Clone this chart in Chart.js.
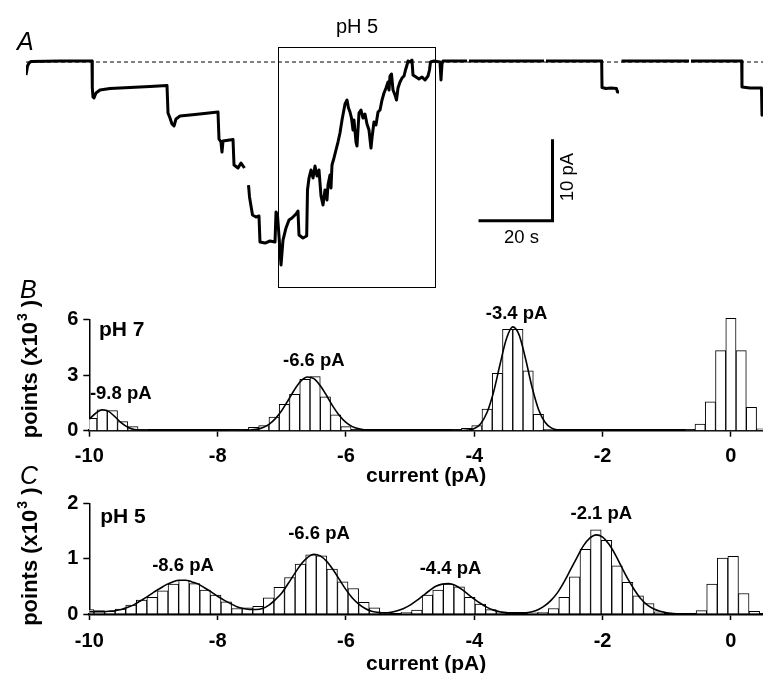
<!DOCTYPE html>
<html>
<head>
<meta charset="utf-8">
<script src="https://cdn.jsdelivr.net/npm/chart.js@4.4.1/dist/chart.umd.min.js"></script>
<style>
  html, body { margin: 0; padding: 0; background: #fff; }
  #fig { position: relative; width: 763px; height: 673px; overflow: hidden; }
  canvas { position: absolute; left: 0; }
</style>
</head>
<body>
<div id="fig">
  <canvas id="traceA" width="763" height="290" style="top:0px"></canvas>
  <canvas id="histB" width="763" height="209" style="top:280px"></canvas>
  <canvas id="histC" width="763" height="218" style="top:455px"></canvas>
</div>
<script>
// ---------- panel A : current trace (time in s, current in pA) ----------
var traceT = [0, 0.41, 0.81, 1.35, 9.19, 17.84,
  17.92, 18.11, 18.38, 18.92, 20.0, 22.70, 28.11, 33.51, 38.11,
  38.38, 38.92, 39.46, 40.0, 40.54, 41.62, 45.68, 51.89,
  52.16, 52.70, 52.97, 53.24, 55.95,
  56.22, 57.30, 58.11, 59.05, 59.5,
  60.14, 60.41, 60.81, 61.22, 62.16, 62.97, 63.24, 64.59, 65.95, 67.30,
  67.57, 67.97, 68.38, 68.92, 69.46, 70.27, 71.08, 71.89, 72.97, 73.51,
  73.78, 74.86, 75.86, 76.08, 76.49, 77.03, 77.57, 78.11, 78.65, 79.19,
  79.73, 80.27, 80.81, 81.35, 81.62, 82.16, 82.43, 82.70, 83.24, 83.78,
  84.32, 84.86, 85.41, 85.81, 86.22, 86.76, 87.16, 87.57, 87.97, 88.38,
  88.65, 89.19, 89.46, 90.0, 90.54, 91.08, 91.62, 92.16, 92.70, 93.24,
  93.51, 94.05, 94.59, 95.14, 95.68, 96.22, 96.76, 97.30, 97.84, 98.11,
  98.38, 98.78, 99.19, 99.73, 100.14, 100.54, 101.08, 101.62, 102.16, 102.57,
  102.97, 103.24, 103.78, 104.32, 104.59, 105.41, 106.22, 107.03, 107.84, 108.65,
  109.05, 109.32, 110.27, 111.89, 112.16, 112.43, 112.70, 119.19, 119.46, 119.73,
  140.0, 140.27, 140.54, 155.59, 155.68, 156.76, 158.11, 159.59, 159.86, 160.27,
  160.6, 160.95, 179.19, 179.46, 179.73, 193.43, 193.51, 195.68, 198.78, 198.92, 199.19];
var traceI = [-1.60, -0.49, -0.12, 0.06, 0.12, 0.12,
  -3.19, -4.30, -4.42, -3.81, -3.44, -3.26, -3.13, -3.01, -2.89,
  -6.27, -6.88, -7.62, -7.86, -7.00, -6.63, -6.45, -6.14,
  -9.46, -9.83, -11.06, -9.71, -9.52,
  -12.65, -13.02, -12.41, -13.02, null,
  -15.11, -16.58, -17.69, -18.80, -19.04, -18.92, -22.11, -22.24, -21.99, -22.11,
  -18.43, -18.80, -21.38, -24.94, -21.87, -20.39, -19.41, -19.16, -18.67, -18.30,
  -21.25, -21.62, -21.38, -15.72, -14.25, -13.27, -14.25, -12.78, -14.00, -13.27,
  -16.46, -17.57, -15.72, -16.95, -15.11, -13.88, -15.48, -12.65, -11.79, -10.81,
  -9.83, -8.72, -7.13, -6.14, -5.16, -4.67, -5.65, -6.14, -6.88, -8.35,
  -7.13, -9.83, -10.32, -6.27, -5.90, -6.88, -6.39, -7.62, -8.35, -10.57,
  -9.34, -7.37, -7.74, -6.14, -5.90, -4.67, -3.81, -3.19, -2.46, -3.44,
  -1.72, -1.47, -3.44, -4.05, -4.67, -3.19, -2.46, -1.97, -1.72, -0.98,
  -0.37, 0.12, 0, 0.25, -1.60, -1.84, -2.09, -1.84, -2.21, -1.72,
  -0.98, 0, 0.12, 0, -2.21, -0.25, 0.12, 0.12, null, 0.12,
  0.12, null, 0.12, 0.12, -3.13, -3.26, -3.19, -3.26, -3.69, -3.69,
  null, 0.12, 0.12, null, 0.12, 0.12, -3.07, -3.19, -3.19, -6.51, -6.63];
var pH5Window = [68.1, 110.5];      // s, period marked by the box
var scaleBarSec = 20;
var scaleBarPA = 10;

// ---------- panel B : pH 7 amplitude histogram ----------
var binsB = [-9.96, -9.8, -9.64, -9.48, -9.32, -9.16,
  -7.76, -7.6, -7.44, -7.28, -7.12, -6.96, -6.8, -6.64, -6.48, -6.32, -6.16, -6.0, -5.84,
  -4.28, -4.12, -3.96, -3.8, -3.64, -3.48, -3.32, -3.16, -3.0, -2.84,
  -0.64, -0.48, -0.32, -0.16, 0, 0.16, 0.32, 0.48];
var countsB = [0.67, 1.12, 1.08, 0.49, 0.22, 0.05,
  0.02, 0.03, 0.18, 0.27, 0.74, 1.42, 1.96, 2.77, 2.91, 1.83, 0.85, 0.22, 0.05,
  0.03, 0.13, 0.27, 1.17, 3.09, 5.46, 5.46, 3.23, 0.88, 0.06,
  0.05, 0.36, 1.56, 4.31, 6.05, 4.31, 1.26, 0.10];
var fitXB = [-10, -9.9, -9.8, -9.7, -9.6, -9.5, -9.4, -9.3, -9.2, -9.1,
  -7.7, -7.6, -7.5, -7.4, -7.3, -7.2, -7.1, -7.0, -6.9, -6.8, -6.7, -6.6,
  -6.5, -6.4, -6.3, -6.2, -6.1, -6.0, -5.9, -5.8, -5.7, -5.6, -5.5,
  -4.3, -4.2, -4.1, -4.0, -3.9, -3.8, -3.7, -3.6, -3.5, -3.4,
  -3.3, -3.2, -3.1, -3.0, -2.9, -2.8, -2.7, -2.6, -2.5];
var fitYB = [0.62, 0.94, 1.13, 1.04, 0.75, 0.42, 0.19, 0.06, 0.02, 0,
  0, 0.01, 0.03, 0.07, 0.16, 0.34, 0.65, 1.09, 1.64, 2.22, 2.68, 2.89,
  2.80, 2.42, 1.88, 1.30, 0.81, 0.45, 0.22, 0.10, 0.04, 0.01, 0,
  0, 0.01, 0.03, 0.12, 0.38, 0.99, 2.07, 3.55, 4.94, 5.59,
  5.15, 3.86, 2.35, 1.16, 0.47, 0.15, 0.04, 0.01, 0];
var peakTextB = ['-9.8 pA', '-6.6 pA', '-3.4 pA'];
var yTicksB = [0, 3, 6];

// ---------- panel C : pH 5 amplitude histogram ----------
var binsC = [-10.01, -9.845, -9.68, -9.515, -9.35, -9.185, -9.02, -8.855, -8.69, -8.525,
  -8.36, -8.195, -8.03, -7.865, -7.7, -7.535, -7.37, -7.205, -7.04, -6.875,
  -6.71, -6.545, -6.38, -6.215, -6.05, -5.885, -5.72, -5.555, -5.39,
  -5.06, -4.895, -4.73, -4.565, -4.4, -4.235, -4.07, -3.905, -3.74, -3.575,
  -3.095, -2.93, -2.765, -2.6, -2.435, -2.27, -2.105, -1.94, -1.775, -1.61, -1.445, -1.28, -1.115,
  -0.46, -0.295, -0.13, 0.035, 0.2, 0.365];
var countsC = [0.08, 0.06, 0.05, 0.09, 0.16, 0.25, 0.30, 0.42, 0.54, 0.61,
  0.55, 0.43, 0.34, 0.22, 0.10, 0.11, 0.14, 0.29, 0.48, 0.66,
  0.90, 1.07, 1.05, 0.81, 0.58, 0.46, 0.21, 0.11, 0.03,
  0.03, 0.07, 0.34, 0.43, 0.54, 0.49, 0.30, 0.18, 0.08, 0.04,
  0.02, 0.03, 0.10, 0.30, 0.67, 1.17, 1.52, 1.33, 0.87, 0.57, 0.33, 0.19, 0.04,
  0.06, 0.54, 1.01, 1.04, 0.37, 0.05];
var fitXC = [-10, -9.9, -9.8, -9.7, -9.6, -9.5, -9.4, -9.3, -9.2, -9.1,
  -9.0, -8.9, -8.8, -8.7, -8.6, -8.5, -8.4, -8.3, -8.2, -8.1,
  -8.0, -7.9, -7.8, -7.7, -7.6, -7.5, -7.4, -7.3, -7.2, -7.1,
  -7.0, -6.9, -6.8, -6.7, -6.6, -6.5, -6.4, -6.3, -6.2, -6.1,
  -6.0, -5.9, -5.8, -5.7, -5.6, -5.5, -5.4, -5.3, -5.2, -5.1,
  -5.0, -4.9, -4.8, -4.7, -4.6, -4.5, -4.4, -4.3, -4.2, -4.1,
  -4.0, -3.9, -3.8, -3.7, -3.6, -3.5, -3.4, -3.3, -3.2, -3.1,
  -3.0, -2.9, -2.8, -2.7, -2.6, -2.5, -2.4, -2.3, -2.2, -2.1,
  -2.0, -1.9, -1.8, -1.7, -1.6, -1.5, -1.4, -1.3, -1.2, -1.1,
  -1.0, -0.9, -0.8];
var fitYC = [0.04, 0.04, 0.04, 0.05, 0.06, 0.08, 0.12, 0.17, 0.24, 0.31,
  0.39, 0.46, 0.53, 0.58, 0.61, 0.61, 0.58, 0.54, 0.47, 0.40,
  0.32, 0.25, 0.19, 0.13, 0.10, 0.08, 0.08, 0.10, 0.16, 0.26,
  0.38, 0.55, 0.73, 0.90, 1.02, 1.08, 1.05, 0.95, 0.80, 0.62,
  0.44, 0.29, 0.18, 0.10, 0.05, 0.03, 0.02, 0.03, 0.06, 0.10,
  0.16, 0.24, 0.33, 0.42, 0.50, 0.54, 0.55, 0.52, 0.45, 0.36,
  0.27, 0.19, 0.12, 0.07, 0.04, 0.02, 0.02, 0.02, 0.02, 0.04,
  0.08, 0.15, 0.25, 0.39, 0.58, 0.80, 1.02, 1.23, 1.37, 1.43,
  1.39, 1.26, 1.07, 0.84, 0.62, 0.43, 0.27, 0.16, 0.09, 0.05,
  0.02, 0.01, 0];
var peakTextC = ['-8.6 pA', '-6.6 pA', '-4.4 pA', '-2.1 pA'];
var yTicksC = [0, 1, 2];

var xTicksCurrent = [-10, -8, -6, -4, -2, 0];

// ---------- drawing ----------
var FONT = "'Liberation Sans', Arial, Helvetica, sans-serif";
Chart.defaults.font.family = FONT;
Chart.defaults.color = '#000';

function toPoints(xs, ys) {
    return xs.map(function (v, i) { return { x: v, y: ys[i] }; });
}

var traceNotes = {
    id: 'traceNotes',
    afterDraw: function (chart) {
        var ctx = chart.ctx, xs = chart.scales.x, ys = chart.scales.y;
        var px = function (v) { return xs.getPixelForValue(v); };
        var py = function (v) { return ys.getPixelForValue(v); };
        ctx.save();
        ctx.strokeStyle = '#000';
        ctx.fillStyle = '#000';

        // box round the pH 5 period
        var bx0 = Math.round(px(pH5Window[0])) + 0.5, bx1 = Math.round(px(pH5Window[1])) + 0.5;
        var by0 = Math.round(py(1.84)) + 0.5, by1 = Math.round(py(-27.64)) + 0.5;
        ctx.lineWidth = 1;
        ctx.strokeRect(bx0, by0, bx1 - bx0, by1 - by0);
        ctx.font = '20px ' + FONT;
        ctx.textAlign = 'center';
        ctx.textBaseline = 'middle';
        ctx.fillText('pH 5', (bx0 + bx1) / 2, by0 - 20);

        // scale bars
        var cornerT = 142.3, cornerI = -19.5;
        var sx0 = px(cornerT - scaleBarSec), sx1 = px(cornerT);
        var sy0 = py(cornerI), sy1 = py(cornerI + scaleBarPA);
        ctx.lineWidth = 3;
        ctx.lineJoin = 'miter';
        ctx.beginPath();
        ctx.moveTo(sx0, sy0);
        ctx.lineTo(sx1, sy0);
        ctx.lineTo(sx1, sy1);
        ctx.stroke();
        ctx.font = '18.5px ' + FONT;
        ctx.fillText(scaleBarSec + ' s', (sx0 + sx1) / 2 + 6, sy0 + 17);
        ctx.save();
        ctx.translate(sx1 + 15, (sy0 + sy1) / 2 - 3);
        ctx.rotate(-Math.PI / 2);
        ctx.fillText(scaleBarPA + ' pA', 0, 0);
        ctx.restore();

        // panel letter
        ctx.font = 'italic 25px ' + FONT;
        ctx.textAlign = 'left';
        ctx.textBaseline = 'alphabetic';
        ctx.fillText('A', 17, 50);
        ctx.restore();
    }
};

new Chart(document.getElementById('traceA').getContext('2d'), {
    type: 'line',
    data: {
        datasets: [{
            data: toPoints(traceT, traceI),
            borderColor: '#000',
            borderWidth: 3,
            borderJoinStyle: 'round',
            pointRadius: 0,
            tension: 0,
            spanGaps: false,
            order: 1
        }, {
            data: [{ x: 0, y: 0 }, { x: 199.19, y: 0 }],
            borderColor: '#000',
            borderWidth: 1,
            borderDash: [4, 3],
            pointRadius: 0,
            order: 2
        }]
    },
    options: {
        responsive: false,
        animation: false,
        events: [],
        layout: { padding: { left: 26, right: 0, top: 0, bottom: 0 } },
        plugins: { legend: { display: false }, tooltip: { enabled: false } },
        scales: {
            x: { type: 'linear', min: 0, max: 199.19, display: false },
            y: { type: 'linear', min: -28.01, max: 7.62, display: false }
        }
    },
    plugins: [traceNotes]
});

function histNotes(o) {
    return {
        id: 'histNotes',
        afterDraw: function (chart) {
            var ctx = chart.ctx, xs = chart.scales.x, ys = chart.scales.y, area = chart.chartArea;
            ctx.save();
            ctx.fillStyle = '#000';
            ctx.font = 'italic 25px ' + FONT;
            ctx.textAlign = 'left';
            ctx.textBaseline = 'alphabetic';
            ctx.fillText(o.letter, o.letterAt[0], o.letterAt[1]);

            ctx.textBaseline = 'middle';
            ctx.font = 'bold 21px ' + FONT;
            ctx.fillText(o.ph, xs.getPixelForValue(o.phAt[0]), ys.getPixelForValue(o.phAt[1]));

            ctx.font = 'bold 18.5px ' + FONT;
            ctx.textAlign = 'center';
            for (var i = 0; i < o.peaks.length; i++) {
                ctx.fillText(o.peaks[i], xs.getPixelForValue(o.peakAt[i][0]), ys.getPixelForValue(o.peakAt[i][1]));
            }

            // y title with a raised 3
            var main = 'points (x10', sup = '3', tail = ' )';
            ctx.translate(31, (area.top + area.bottom) / 2 - o.titleLift);
            ctx.rotate(-Math.PI / 2);
            ctx.textAlign = 'left';
            ctx.font = 'bold 22px ' + FONT;
            var w1 = ctx.measureText(main).width, w3 = ctx.measureText(tail).width;
            ctx.font = 'bold 14px ' + FONT;
            var w2 = ctx.measureText(sup).width;
            var x0 = -(w1 + w2 + w3 + 1) / 2;
            ctx.font = 'bold 22px ' + FONT;
            ctx.fillText(main, x0, 0);
            ctx.font = 'bold 14px ' + FONT;
            ctx.fillText(sup, x0 + w1 + 1, -8);
            ctx.font = 'bold 22px ' + FONT;
            ctx.fillText(tail, x0 + w1 + w2 + 1, 0);
            ctx.restore();
        }
    };
}

function histChart(id, bins, counts, fitX, fitY, yMax, yTicks, geo, notes) {
    return new Chart(document.getElementById(id).getContext('2d'), {
        type: 'bar',
        data: {
            datasets: [{
                type: 'line',
                data: toPoints(fitX, fitY),
                borderColor: '#000',
                borderWidth: 1.6,
                pointRadius: 0,
                cubicInterpolationMode: 'monotone',
                order: 1
            }, {
                type: 'bar',
                data: toPoints(bins, counts),
                backgroundColor: '#fff',
                borderColor: '#000',
                borderWidth: 1,
                barPercentage: 1,
                categoryPercentage: 1,
                clip: { left: 0, top: 4, right: 0, bottom: 0 },
                order: 2
            }]
        },
        options: {
            responsive: false,
            animation: false,
            events: [],
            layout: { padding: { top: geo.top, left: 0, right: 0, bottom: 0 } },
            plugins: { legend: { display: false }, tooltip: { enabled: false } },
            scales: {
                x: {
                    type: 'linear', min: -10, max: 0.5, offset: false,
                    border: { display: true, color: '#000', width: 2.5 },
                    grid: { display: true, offset: false, drawOnChartArea: false, drawTicks: true,
                            tickLength: 6, tickWidth: 1.5, tickColor: '#000' },
                    ticks: { autoSkip: false, maxRotation: 0, padding: geo.tickPad, color: '#000',
                             font: { size: 20, weight: 'bold' } },
                    afterBuildTicks: function (s) { s.ticks = xTicksCurrent.map(function (v) { return { value: v }; }); },
                    title: { display: true, text: 'current (pA)', color: '#000',
                             font: { size: 21, weight: 'bold' }, padding: { top: 0, bottom: geo.titlePad } },
                    afterFit: function (s) { s.height = geo.xH; }
                },
                y: {
                    type: 'linear', min: 0, max: yMax,
                    border: { display: true, color: '#000', width: 1.5 },
                    grid: { display: true, drawOnChartArea: false, drawTicks: true,
                            tickLength: 6, tickWidth: 1.5, tickColor: '#000' },
                    ticks: { padding: 5, color: '#000', font: { size: 20, weight: 'bold' } },
                    afterBuildTicks: function (s) { s.ticks = yTicks.map(function (v) { return { value: v }; }); },
                    afterFit: function (s) { s.width = 89.3; }
                }
            }
        },
        plugins: [histNotes(notes)]
    });
}

histChart('histB', binsB, countsB, fitXB, fitYB, 6, yTicksB,
    { top: 39.3, xH: 58.3, tickPad: 8, titlePad: 0 },
    { letter: 'B', letterAt: [20, 18], ph: 'pH 7', phAt: [-9.85, 5.42], titleLift: 6,
      peaks: peakTextB, peakAt: [[-9.51, 1.98], [-6.5, 3.75], [-3.34, 6.28]] });

histChart('histC', binsC, countsC, fitXC, fitYC, 2, yTicksC,
    { top: 48.3, xH: 59, tickPad: 9, titlePad: -4 },
    { letter: 'C', letterAt: [20, 29], ph: 'pH 5', phAt: [-9.83, 1.74], titleLift: 2,
      peaks: peakTextC, peakAt: [[-8.54, 0.87], [-6.42, 1.45], [-4.37, 0.81], [-2.02, 1.81]] });
</script>
</body>
</html>
